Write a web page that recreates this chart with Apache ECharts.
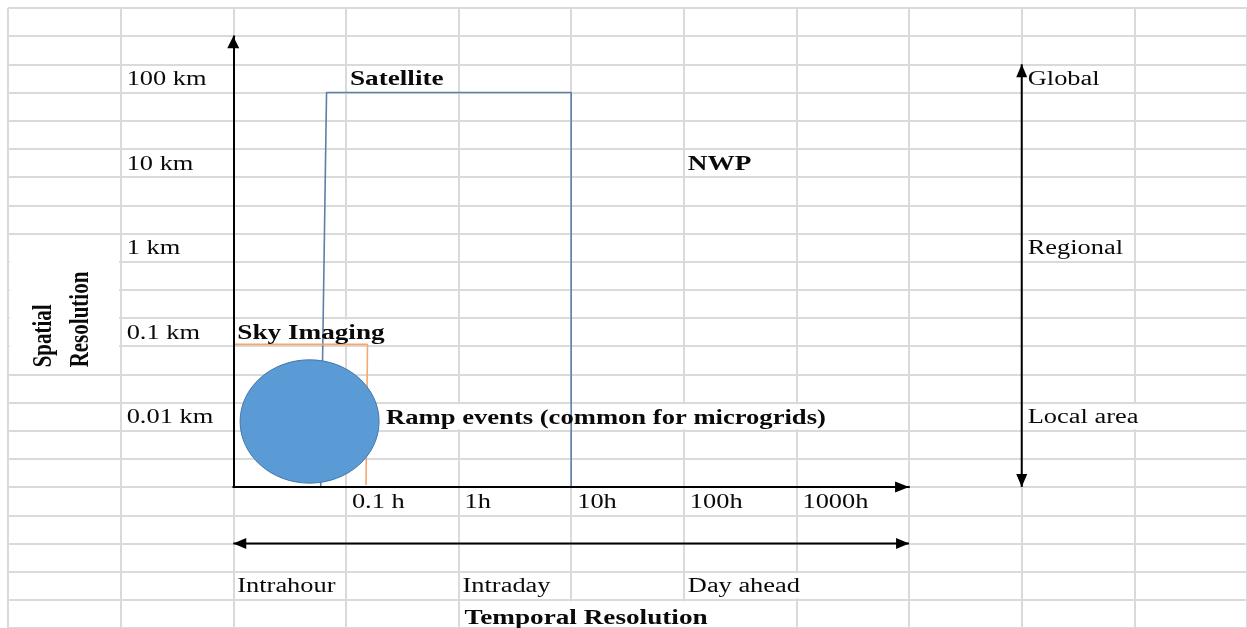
<!DOCTYPE html>
<html>
<head>
<meta charset="utf-8">
<title>Solar forecasting methods: spatial vs temporal resolution</title>
<script src="https://cdn.jsdelivr.net/npm/echarts@6/dist/echarts.min.js"></script>
<style>
  html, body { margin: 0; padding: 0; background: #fff; }
  #chart { width: 1247px; height: 628px; }
</style>
</head>
<body>
<div id="chart"></div>
<script>
// Both resolutions are drawn on log10 scales: hours across, km up.
const hourRange = [0.01, 10000];
const kmRange = [Math.pow(10, -8 / 3), Math.pow(10, 8 / 3)];

const temporalTicks = ['0.1 h', '1h', '10h', '100h', '1000h'];
const temporalTickHours = [0.1, 1, 10, 100, 1000];
const spatialTicks = ['0.01 km', '0.1 km', '1 km', '10 km', '100 km'];
const spatialTickKm = [0.01, 0.1, 1, 10, 100];
const horizons = ['Intrahour', 'Intraday', 'Day ahead'];
const horizonStartHours = [0.01, 1, 100];
const areaScales = ['Local area', 'Regional', 'Global'];
const areaScaleKm = [0.01, 1, 100];

// Satellite coverage outline, [hours] and [km] per corner
const satelliteHours = [0.0597, 0.0673, 10, 10];
const satelliteKm = [kmRange[0], 100, 100, kmRange[0]];
// Sky imaging coverage outline
const skyHours = [0.01, 0.1555, 0.1508];
const skyKm = [0.105, 0.105, 0.00228];
// Ramp events extent (drawn as an ellipse)
const rampHours = [0.0115, 0.197];
const rampKm = [0.0024, 0.069];
const rampLabel = 'Ramp events (common for microgrids)';

// Spreadsheet backdrop: 11 columns x 22 rows; the plot occupies columns 2-8, rows 1-17.
const SHEET_COLS = 11, SHEET_ROWS = 22;
const W = 1247, H = 628, SHEET_LEFT = 8, SHEET_TOP = 8;
const COL_W = (W - SHEET_LEFT) / SHEET_COLS;
const ROW_H = (H - SHEET_TOP) / SHEET_ROWS;

const FONT = '"Liberation Serif", "Times New Roman", serif';
const INK = '#0a0a0a';

// Cell texts (col, row of the cell holding them)
const sheetTexts = [];
spatialTicks.forEach((t, i) => sheetTexts.push({ text: t, col: 1, row: 8 - 3 * Math.log10(spatialTickKm[i]) }));
temporalTicks.forEach((t, i) => sheetTexts.push({ text: t, col: 4 + Math.log10(temporalTickHours[i]), row: 17 }));
horizons.forEach((t, i) => sheetTexts.push({ text: t, col: 4 + Math.log10(horizonStartHours[i]), row: 20, dx: 4 }));
areaScales.forEach((t, i) => sheetTexts.push({ text: t, col: 9, row: 8 - 3 * Math.log10(areaScaleKm[i]) }));
sheetTexts.push(
  { text: 'Satellite', col: 3, row: 2, bold: true, dx: 4 },
  { text: 'NWP', col: 6, row: 5, bold: true, dx: 4 },
  { text: 'Sky Imaging', col: 2, row: 11, bold: true, dx: 4 },
  { text: 'Temporal Resolution', col: 4, row: 21, bold: true, dy: 3 },
  { text: 'Spatial', col: 0, row: 13, bold: true, rotate: true, dx: 36, dy: -7 },
  { text: 'Resolution', col: 0, row: 13, bold: true, rotate: true, dx: 73, dy: -7 }
);

// Cells whose borders are hidden by overflowing / merged text: [col0, col1, row0, row1]
const clearedCells = [
  [2, 3, 11, 11],
  [3, 7, 14, 14],
  [9, 10, 14, 14],
  [6, 7, 20, 20],
  [4, 6, 21, 21],
  [0, 0, 8, 12]
];

// Double-headed guide arrows in cell coordinates: [col0, row0, col1, row1]
const guideArrows = [
  [9, 2, 9, 17],
  [2, 19, 8, 19]
];

const log = Math.log10;

function arrowHead(tip, dir, len, half) {
  const bx = tip[0] - dir[0] * len, by = tip[1] - dir[1] * len;
  return {
    type: 'polygon',
    shape: { points: [tip, [bx - dir[1] * half, by + dir[0] * half], [bx + dir[1] * half, by - dir[0] * half]] },
    style: { fill: '#000' }
  };
}

const chart = echarts.init(document.getElementById('chart'), null, { renderer: 'canvas' });

const sheetSplit = { show: true, lineStyle: { color: '#dadada', width: 2 } };
const hidden = { show: false };

const option = {
  animation: false,
  backgroundColor: '#ffffff',
  grid: [
    { left: SHEET_LEFT, top: SHEET_TOP, right: 0, bottom: 0, outerBoundsMode: 'none' },
    { left: SHEET_LEFT + 2 * COL_W, top: SHEET_TOP + ROW_H, width: 6 * COL_W, height: 16 * ROW_H, outerBoundsMode: 'none' }
  ],
  xAxis: [
    { gridIndex: 0, type: 'value', min: 0, max: SHEET_COLS, interval: 1,
      axisLine: hidden, axisTick: hidden, axisLabel: hidden, splitLine: sheetSplit },
    { gridIndex: 1, type: 'value', min: log(hourRange[0]), max: log(hourRange[1]), z: 5,
      axisLine: { show: true, onZero: false, symbol: ['none', 'triangle'], symbolSize: [11, 14], symbolOffset: [0, -7],
        lineStyle: { color: '#000', width: 2 } },
      axisTick: hidden, axisLabel: hidden, splitLine: hidden }
  ],
  yAxis: [
    { gridIndex: 0, type: 'value', inverse: true, min: 0, max: SHEET_ROWS, interval: 1,
      axisLine: hidden, axisTick: hidden, axisLabel: hidden, splitLine: sheetSplit },
    { gridIndex: 1, type: 'value', min: log(kmRange[0]), max: log(kmRange[1]), z: 5,
      axisLine: { show: true, onZero: false, symbol: ['none', 'triangle'], symbolSize: [12, 12], symbolOffset: [0, -6],
        lineStyle: { color: '#000', width: 2 } },
      axisTick: hidden, axisLabel: hidden, splitLine: hidden }
  ],
  series: [
    // blank out borders under overflowing text
    {
      type: 'custom', xAxisIndex: 0, yAxisIndex: 0, z: 1, silent: true, clip: false,
      data: clearedCells,
      renderItem: (params, api) => {
        const a = api.coord([api.value(0), api.value(2)]);
        const b = api.coord([api.value(1) + 1, api.value(3) + 1]);
        const pad = 1.6;
        return { type: 'rect', shape: { x: a[0] + pad, y: a[1] + pad, width: b[0] - a[0] - 2 * pad, height: b[1] - a[1] - 2 * pad },
          style: { fill: '#ffffff' } };
      }
    },
    // Satellite region
    {
      type: 'line', xAxisIndex: 1, yAxisIndex: 1, z: 3, silent: true, clip: false,
      showSymbol: false, symbol: 'none',
      data: satelliteHours.map((h, i) => [log(h), log(satelliteKm[i])]),
      lineStyle: { color: '#5f7fa8', width: 1.6 }
    },
    // Sky imaging region
    {
      type: 'line', xAxisIndex: 1, yAxisIndex: 1, z: 3, silent: true, clip: false,
      showSymbol: false, symbol: 'none',
      data: skyHours.map((h, i) => [log(h), log(skyKm[i])]),
      lineStyle: { color: '#f5a86e', width: 1.6 }
    },
    // Ramp events
    {
      type: 'custom', xAxisIndex: 1, yAxisIndex: 1, z: 4, silent: true, clip: false,
      data: [[log(rampHours[0]), log(rampHours[1]), log(rampKm[0]), log(rampKm[1])]],
      renderItem: (params, api) => {
        const a = api.coord([api.value(0), api.value(2)]);
        const b = api.coord([api.value(1), api.value(3)]);
        const cx = (a[0] + b[0]) / 2, cy = (a[1] + b[1]) / 2;
        const rx = Math.abs(b[0] - a[0]) / 2, ry = Math.abs(b[1] - a[1]) / 2;
        return {
          type: 'group',
          children: [
            { type: 'ellipse', shape: { cx, cy, rx, ry }, style: { fill: '#5b9bd5', stroke: '#4577ab', lineWidth: 1 } },
            { type: 'text', x: cx + rx + 7, y: cy - 3, scaleX: 1.33, z2: 10,
              style: { text: rampLabel, x: 0, y: 0, fill: INK, font: 'bold 20px ' + FONT,
                align: 'left', verticalAlign: 'middle' } }
          ]
        };
      }
    },
    // guide arrows
    {
      type: 'custom', xAxisIndex: 0, yAxisIndex: 0, z: 5, silent: true, clip: false,
      data: guideArrows,
      renderItem: (params, api) => {
        const p0 = api.coord([api.value(0), api.value(1)]);
        const p1 = api.coord([api.value(2), api.value(3)]);
        const dx = p1[0] - p0[0], dy = p1[1] - p0[1], L = Math.hypot(dx, dy);
        const d = [dx / L, dy / L];
        return {
          type: 'group',
          children: [
            { type: 'line', shape: { x1: p0[0], y1: p0[1], x2: p1[0], y2: p1[1] }, style: { stroke: '#000', lineWidth: 2 } },
            arrowHead(p1, d, 13, 5.5),
            arrowHead(p0, [-d[0], -d[1]], 13, 5.5)
          ]
        };
      }
    },
    // cell texts
    {
      type: 'custom', xAxisIndex: 0, yAxisIndex: 0, z: 6, silent: true, clip: false,
      data: sheetTexts.map((t, i) => [t.col, t.row, i]),
      renderItem: (params, api) => {
        const t = sheetTexts[api.value(2)];
        const p = api.coord([api.value(0), api.value(1)]);
        const rowH = api.size([0, 1])[1];
        const font = (t.bold ? 'bold ' : '') + (t.rotate ? '21px ' : '20px ') + FONT;
        if (t.rotate) {
          return { type: 'text', x: p[0] + t.dx, y: p[1] + t.dy, rotation: Math.PI / 2, scaleY: 1.35,
            style: { text: t.text, x: 0, y: 0, fill: INK, font, align: 'left', verticalAlign: 'middle' } };
        }
        return {
          type: 'text', x: p[0] + (t.dx != null ? t.dx : 6), y: p[1] + rowH / 2 + 1.5 + (t.dy || 0),
          scaleX: t.bold ? 1.36 : 1.32,
          style: { text: t.text, x: 0, y: 0, fill: INK, font, align: 'left', verticalAlign: 'middle' }
        };
      }
    }
  ]
};

chart.setOption(option);
</script>
</body>
</html>
